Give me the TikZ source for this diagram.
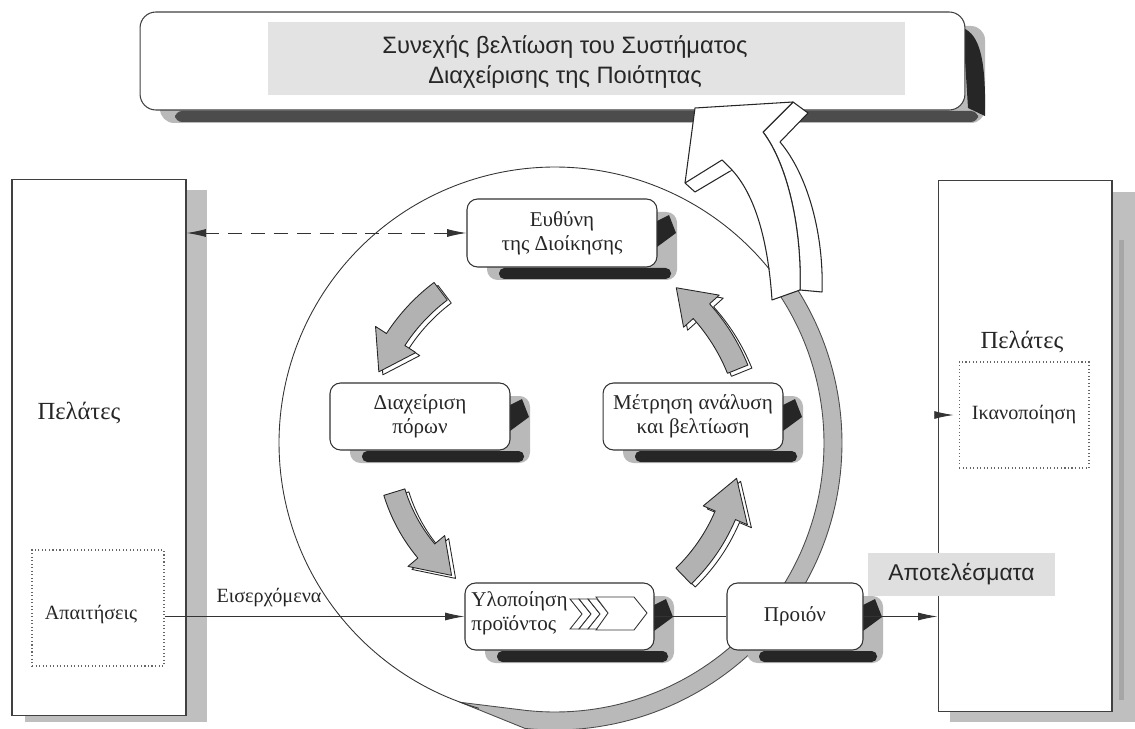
\documentclass[tikz,border=0pt]{standalone}
\usepackage{fontspec}
\setmainfont{Liberation Serif}
\newfontfamily\sansgr{Liberation Sans}
\usetikzlibrary{arrows.meta,calc}

\newcommand{\boxshade}[4]{%
  \fill[gray!55, rounded corners=6pt] ({#1+20},{#2+13}) rectangle ({#3+20},{#4+13});
  \fill[black!85, rounded corners=3pt] ({#1+32},{#4+1}) rectangle ({#3+14},{#4+12});
  \fill[black!85] ({#3},{#2+22}) -- ({#3+12},{#2+16}) -- ({#3+19},{#2+34}) -- ({#3},{#2+48}) -- cycle;
}
% curved block arrow: style, radius, tail angle, head-base angle, tip angle
\newcommand{\carrow}[5]{%
  \draw[#1] plot[domain=#3:#4,samples=15] ({555+(#2+11)*cos(\x)},{443+(#2+11)*sin(\x)})
   -- ({555+(#2+24)*cos(#4)},{443+(#2+24)*sin(#4)})
   -- ({555+#2*cos(#5)},{443+#2*sin(#5)})
   -- ({555+(#2-24)*cos(#4)},{443+(#2-24)*sin(#4)})
   -- plot[domain=#4:#3,samples=15] ({555+(#2-11)*cos(\x)},{443+(#2-11)*sin(\x)}) -- cycle;}

\begin{document}
\begin{tikzpicture}[x=0.02cm,y=-0.02cm,
  txt/.style={text=black!85},
  pbox/.style={draw=black!80, line width=0.6pt, fill=white, rounded corners=6pt, inner sep=0pt,
    align=center, txt, font=\fontsize{12}{13.5}\selectfont},
  bigbox/.style={draw=black!75, line width=0.6pt, fill=white, inner sep=0pt},
  dotbox/.style={draw=black!60, dash pattern=on 0.6pt off 1.4pt, line width=0.6pt, inner sep=0pt,
    align=center, txt, font=\fontsize{11.5}{13}\selectfont},
  lbl/.style={inner sep=0pt, txt, font=\fontsize{11.5}{13}\selectfont},
  biglbl/.style={inner sep=0pt, txt, font=\fontsize{14}{16}\selectfont},
  conn/.style={draw=black!80, line width=0.5pt},
  tipa/.style={-{Latex[length=11pt,width=4.5pt]}},
  arrfront/.style={draw=black!85, line width=0.5pt, fill=gray!60, line join=round},
  arrback/.style={draw=black!85, line width=0.5pt, fill=white, line join=round},
  band/.style={draw=black!70, line width=0.5pt, fill=gray!55},
  whitearr/.style={draw=black!85, line width=0.6pt, fill=white, line join=round},
  chev/.style={draw=black!80, line width=0.5pt, fill=white, line join=miter}
]
\useasboundingbox (0,0) rectangle (1135,729);

% ---------- top box ----------
\fill[gray!55, rounded corners=8pt] (160,26) rectangle (985,123);
\fill[black!70, rounded corners=4pt] (175,111) rectangle (978,122);
\fill[black!85] (963,28) .. controls (980,35) and (986,60) .. (985,116) -- (968,108) -- cycle;
\node[bigbox, rounded corners=9pt, minimum width=16.5cm, minimum height=1.96cm] (top) at (552.5,61) {};
\fill[gray!22] (268,22) rectangle (905,95);
\node[inner sep=0pt, txt, align=center, font=\sansgr\fontsize{13.5}{17.5}\selectfont] (title) at (565,62)
  {Συνεχής βελτίωση του Συστήματος\\Διαχείρισης της Ποιότητας};

% ---------- left customers ----------
\fill[gray!50] (186,190) rectangle (207,722);
\fill[gray!50] (25,716) rectangle (207,722);
\node[bigbox, minimum width=3.48cm, minimum height=10.74cm] (lc) at (99,447.5) {};
\node[biglbl] (lct) at (79,413) {Πελάτες};
\node[dotbox, minimum width=2.64cm, minimum height=2.32cm] (req) at (98,608) {};
\node[lbl] (reqt) at (91,615) {Απαιτήσεις};

% ---------- right customers ----------
\fill[gray!50] (1112,192) rectangle (1135,722);
\fill[gray!50] (950,712) rectangle (1135,722);
\fill[gray!70] (1119,240) rectangle (1124,700);
\node[bigbox, minimum width=3.48cm, minimum height=10.64cm] (rc) at (1025,446) {};
\node[biglbl] (rct) at (1022,342) {Πελάτες};
\node[dotbox, minimum width=2.6cm, minimum height=2.12cm] (sat) at (1024,415) {Ικανοποίηση};

% ---------- grey ring band ----------
\draw[band] ({555+276*cos(110)},{443+276*sin(110)})
  -- plot[domain=96:-33,samples=80] ({555+287*cos(\x)},{443+287*sin(\x)})
  -- plot[domain=-33:96,samples=80] ({555+269*cos(\x)},{443+269*sin(\x)}) -- cycle;

% ---------- big white arrow to the top ----------
\draw[whitearr] (793,102) -- (808,113) -- (780,142) .. controls (808,175) and (824,235) .. (822,292)
  -- (800,290) .. controls (802,230) and (788,165) .. (763,132) -- cycle;
\draw[whitearr] (695,108) -- (793,102) -- (763,132) .. controls (788,165) and (802,230) .. (800,290)
  -- (772,300) .. controls (768,240) and (755,195) .. (732,170) -- (695,192) -- (685,183) -- cycle;
\draw[whitearr] (685,183) -- (722,160) -- (732,170);

% ---------- circle ----------
\draw[conn] plot[domain=106:321,samples=150] ({555+276*cos(\x)},{443+276*sin(\x)});

% ---------- inner cycle arrows ----------
\begin{scope}[shift={(4,3)}]
\carrow{arrback}{190}{-127}{-147}{-158}
\carrow{arrback}{197}{-22}{-42}{-52}
\carrow{arrback}{168}{163}{140}{128}
\carrow{arrback}{185}{46}{23}{11}
\end{scope}
\carrow{arrfront}{190}{-127}{-147}{-158}
\carrow{arrfront}{197}{-22}{-42}{-52}
\carrow{arrfront}{168}{163}{140}{128}
\carrow{arrfront}{185}{46}{23}{11}

% ---------- process boxes ----------
\boxshade{467}{199}{657}{267}
\node[pbox, minimum width=3.8cm, minimum height=1.36cm] (mr) at (562,233) {Ευθύνη\\της Διοίκησης};

\boxshade{330}{383}{510}{450}
\node[pbox, minimum width=3.6cm, minimum height=1.34cm] (rm) at (420,416.5) {Διαχείριση\\πόρων};

\boxshade{603}{383}{783}{450}
\node[pbox, minimum width=3.6cm, minimum height=1.34cm] (ma) at (693,416.5) {Μέτρηση ανάλυση\\και βελτίωση};

\boxshade{465}{583}{654}{650}
\node[pbox, minimum width=3.78cm, minimum height=1.34cm] (pr) at (559.5,616.5) {};
\node[anchor=west, align=left, inner sep=0pt, txt, font=\fontsize{12}{13.5}\selectfont] (prt) at (471,613) {Υλοποίηση\\προϊόντος};
\foreach \cx in {570,579,588}
  \draw[chev] (\cx,599) -- (\cx+9,599) -- (\cx+21,614) -- (\cx+9,629) -- (\cx,629) -- (\cx+12,614) -- cycle;
\draw[chev] (596,597) -- (634,597) -- (647,613) -- (634,630) -- (596,630) -- (608,613) -- cycle;

\boxshade{727}{583}{863}{650}
\node[pbox, minimum width=2.72cm, minimum height=1.34cm] (prod) at (795,616.5) {Προιόν};

% ---------- results label ----------
\node[fill=gray!25, inner sep=0pt, minimum width=3.74cm, minimum height=0.86cm, txt,
  font=\sansgr\fontsize{13}{15}\selectfont] (res) at (961.5,574.5) {Αποτελέσματα};

% ---------- connectors ----------
\draw[conn, dash pattern=on 8pt off 5pt, {Latex[length=11pt,width=4.5pt]}-{Latex[length=11pt,width=4.5pt]}]
  (lc.east |- mr.west) -- (mr.west);
\draw[conn, tipa] (req.east |- pr.west) -- (pr.west);
\node[lbl] (inc) at (269,598) {Εισερχόμενα};
\draw[conn] (pr.east) -- (prod.west);
\draw[conn, tipa] (prod.east) -- (rc.west |- prod.east);
\coordinate (ikin) at (936,415);
\draw[conn, tipa, shorten >=2.8pt] (ikin) -- (sat.west);
\end{tikzpicture}
\end{document}
